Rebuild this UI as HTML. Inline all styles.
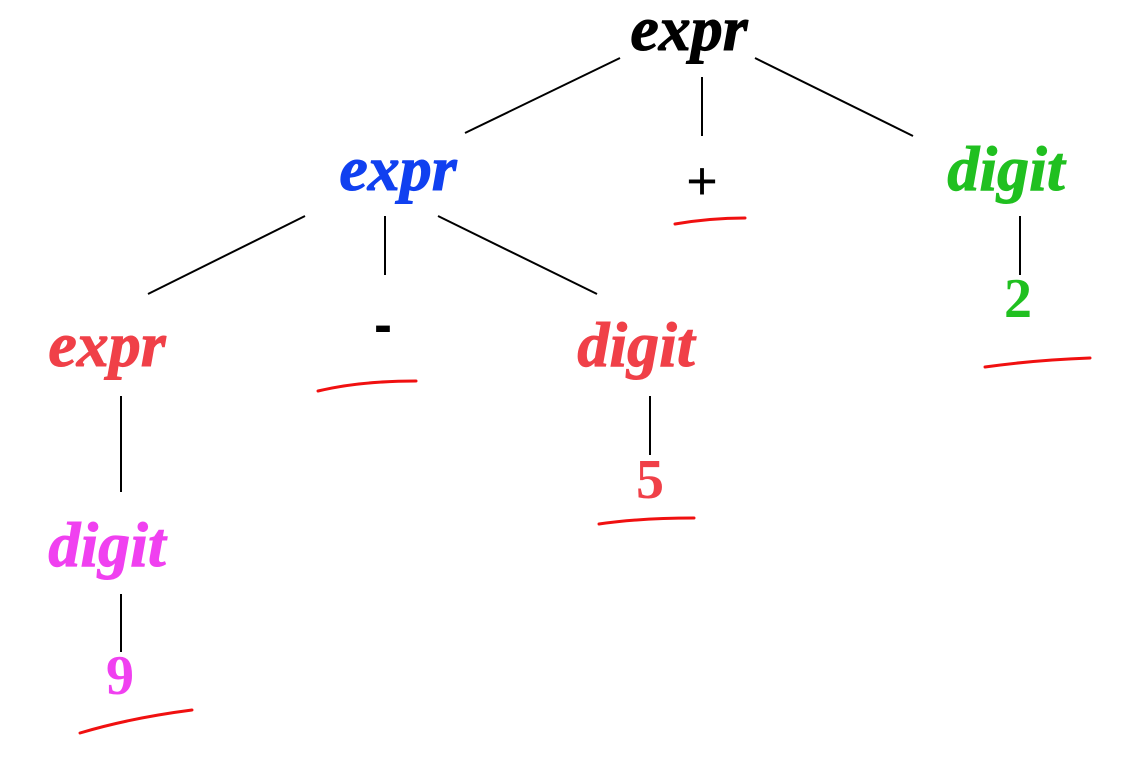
<!DOCTYPE html>
<html><head><meta charset="utf-8"><style>body{margin:0;background:#fff}</style></head>
<body>
<svg width="1144" height="758" xmlns="http://www.w3.org/2000/svg">
<g stroke="#000" stroke-width="2">
<line x1="620" y1="58" x2="465" y2="133"/>
<line x1="702" y1="77" x2="702" y2="136"/>
<line x1="755" y1="58" x2="913" y2="136"/>
<line x1="305" y1="216" x2="148" y2="294"/>
<line x1="385" y1="216" x2="385" y2="275"/>
<line x1="438" y1="216" x2="597" y2="294"/>
<line x1="1020" y1="216" x2="1020" y2="275"/>
<line x1="121" y1="396" x2="121" y2="492"/>
<line x1="650" y1="396" x2="650" y2="455"/>
<line x1="121" y1="594" x2="121" y2="652"/>
</g>
<g stroke="#f01010" stroke-width="3" fill="none" stroke-linecap="round">
<path d="M675 224 Q710 218 745 218"/>
<path d="M318 391 Q360 381 416 381"/>
<path d="M985 367 Q1035 360 1090 358"/>
<path d="M599 524 Q640 518 694 518"/>
<path d="M80 733 Q130 718 192 710"/>
</g>
<g font-family="Liberation Serif, serif" font-weight="bold" font-style="italic" font-size="64" text-anchor="middle" stroke-width="1">
<text x="689" y="50" fill="#000" stroke="#000">expr</text>
<text x="398" y="190" fill="#1040f0" stroke="#1040f0">expr</text>
<text x="1006" y="190" fill="#20c020" stroke="#20c020">digit</text>
<text x="107" y="366" fill="#f04048" stroke="#f04048">expr</text>
<text x="636" y="366" fill="#f04048" stroke="#f04048">digit</text>
<text x="107" y="566" fill="#f040f0" stroke="#f040f0">digit</text>
</g>
<g font-family="Liberation Serif, serif" font-weight="bold" font-size="56" text-anchor="middle">
<text x="1018" y="317" fill="#20c020">2</text>
<text x="650" y="498" fill="#f04048">5</text>
<text x="120" y="694" fill="#f040f0">9</text>
</g>
<g font-family="Liberation Sans, sans-serif" font-size="54" text-anchor="middle" fill="#000">
<text x="702" y="199">+</text>
<text x="383" y="343" font-weight="bold">-</text>
</g>
</svg>
</body></html>
